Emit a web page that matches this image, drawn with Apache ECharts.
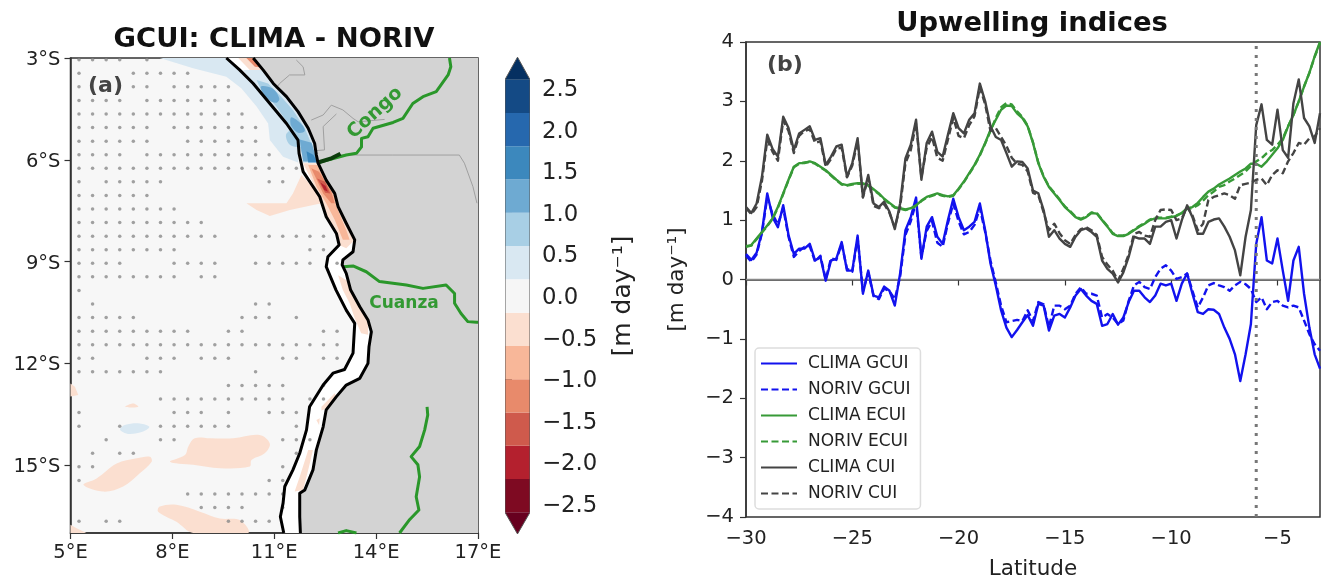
<!DOCTYPE html>
<html><head><meta charset="utf-8">
<style>html,body{margin:0;padding:0;background:#fff}#c{width:1322px;height:579px;filter:blur(0.5px)}</style>
<script src="https://cdn.jsdelivr.net/npm/echarts@6/dist/echarts.min.js"></script>
</head><body><div id="c"></div>
<script>
/* ---------- panel (b) data ---------- */
const latitudes = [-30,-29.75,-29.5,-29.25,-29,-28.75,-28.5,-28.25,-28,-27.75,-27.5,-27.25,-27,-26.75,-26.5,-26.25,-26,-25.75,-25.5,-25.25,-25,-24.75,-24.5,-24.25,-24,-23.75,-23.5,-23.25,-23,-22.75,-22.5,-22.25,-22,-21.75,-21.5,-21.25,-21,-20.75,-20.5,-20.25,-20,-19.75,-19.5,-19.25,-19,-18.75,-18.5,-18.25,-18,-17.75,-17.5,-17.25,-17,-16.75,-16.5,-16.25,-16,-15.75,-15.5,-15.25,-15,-14.75,-14.5,-14.25,-14,-13.75,-13.5,-13.25,-13,-12.75,-12.5,-12.25,-12,-11.75,-11.5,-11.25,-11,-10.75,-10.5,-10.25,-10,-9.75,-9.5,-9.25,-9,-8.75,-8.5,-8.25,-8,-7.75,-7.5,-7.25,-7,-6.75,-6.5,-6.25,-6,-5.75,-5.5,-5.25,-5,-4.75,-4.5,-4.25,-4,-3.75,-3.5,-3.25,-3];
const climaGcui = [0.43,0.33,0.45,0.8,1.45,1.05,0.88,1.25,0.75,0.43,0.52,0.52,0.6,0.32,0.38,-0.02,0.32,0.35,0.63,0.15,0.15,0.74,-0.24,0.15,-0.27,-0.3,-0.12,-0.19,-0.44,0.1,0.83,1.05,1.38,0.35,0.89,1.05,0.72,0.6,1.0,1.36,1.05,0.83,0.89,0.97,1.28,0.83,0.27,-0.1,-0.52,-0.81,-0.97,-0.85,
-0.72,-0.6,-0.78,-0.41,-0.44,-0.86,-0.61,-0.58,-0.64,-0.47,-0.27,-0.16,-0.27,-0.36,-0.41,-0.78,-0.75,-0.58,-0.76,-0.64,-0.38,-0.19,-0.19,-0.3,-0.38,-0.27,-0.07,-0.1,-0.07,-0.36,-0.07,0.1,-0.24,-0.55,-0.58,-0.5,-0.51,-0.58,-0.81,-1.0,-1.26,-1.71,-1.26,-0.75,0.6,1.05,0.32,0.27,0.69,0.15,-0.36,0.32,0.55,-0.24,-0.81,-1.26,-1.5];
const norivGcui = [0.4,0.3,0.42,0.78,1.38,1.1,0.93,1.2,0.72,0.38,0.48,0.55,0.56,0.3,0.4,0.0,0.36,0.33,0.6,0.18,0.13,0.7,-0.2,0.12,-0.28,-0.33,-0.15,-0.2,-0.33,0.05,0.75,0.98,1.3,0.38,0.82,0.98,0.62,0.55,0.95,1.28,0.98,0.76,0.8,0.92,1.2,0.8,0.32,-0.05,-0.44,-0.72,-0.7,-0.68,
-0.7,-0.52,-0.7,-0.38,-0.42,-0.8,-0.44,-0.44,-0.5,-0.44,-0.24,-0.13,-0.24,-0.24,-0.27,-0.64,-0.58,-0.64,-0.75,-0.69,-0.36,-0.1,-0.04,-0.13,-0.16,0.04,0.18,0.24,0.15,0.01,0.04,0.1,-0.19,-0.47,-0.3,-0.1,-0.06,-0.1,-0.13,-0.19,-0.1,-0.04,-0.08,-0.16,-0.38,-0.3,-0.5,-0.38,-0.36,-0.44,-0.47,-0.44,-0.47,-0.69,-0.92,-1.09,-1.2];
const climaEcui = [0.56,0.58,0.69,0.8,0.91,1.03,1.22,1.45,1.68,1.9,1.96,1.96,1.99,1.96,1.9,1.84,1.76,1.68,1.61,1.59,1.61,1.62,1.62,1.59,1.52,1.45,1.36,1.29,1.22,1.2,1.18,1.2,1.25,1.33,1.39,1.42,1.45,1.42,1.4,1.42,1.53,1.65,1.79,1.93,2.1,2.3,2.52,2.69,2.86,2.93,2.92,2.8,
2.72,2.58,2.3,1.96,1.73,1.56,1.45,1.34,1.22,1.14,1.05,1.01,1.05,1.12,1.11,1.0,0.89,0.77,0.73,0.73,0.77,0.83,0.89,0.94,1.0,1.03,1.03,1.03,1.05,1.07,1.12,1.2,1.22,1.29,1.39,1.48,1.53,1.6,1.65,1.7,1.76,1.82,1.87,1.95,1.95,1.9,1.99,2.1,2.21,2.35,2.58,2.77,3.0,3.25,3.48,3.76,4.0];
const norivEcui = [0.55,0.57,0.68,0.79,0.9,1.02,1.21,1.44,1.67,1.89,1.95,1.97,1.98,1.95,1.89,1.83,1.75,1.67,1.6,1.58,1.6,1.61,1.61,1.58,1.51,1.44,1.35,1.28,1.21,1.19,1.17,1.19,1.24,1.32,1.38,1.41,1.44,1.41,1.39,1.41,1.52,1.64,1.78,1.92,2.09,2.29,2.5,2.72,2.9,2.97,2.95,2.83,
2.74,2.59,2.31,1.97,1.74,1.57,1.46,1.35,1.23,1.15,1.06,1.02,1.06,1.13,1.12,1.01,0.9,0.78,0.74,0.74,0.78,0.84,0.9,0.95,1.01,1.04,1.04,1.04,1.06,1.08,1.12,1.19,1.2,1.25,1.33,1.42,1.48,1.56,1.59,1.65,1.7,1.76,1.82,1.91,1.99,2.04,2.13,2.18,2.27,2.38,2.58,2.77,3.0,3.25,3.48,3.75,3.98];
const climaCui = [1.22,1.12,1.28,1.73,2.44,2.2,2.07,2.74,2.55,2.18,2.46,2.52,2.58,2.35,2.38,1.93,2.07,2.24,2.27,1.73,1.96,2.38,1.39,1.76,1.28,1.22,1.31,1.14,0.85,1.28,2.04,2.27,2.69,1.68,2.3,2.49,2.15,2.07,2.44,2.8,2.55,2.46,2.69,2.8,3.3,3.0,2.58,2.4,2.35,2.13,1.9,1.99,
1.98,1.87,1.5,1.45,1.17,0.72,0.83,0.69,0.6,0.55,0.72,0.83,0.86,0.8,0.72,0.32,0.18,0.1,-0.05,0.12,0.38,0.72,0.69,0.69,0.6,0.89,0.89,0.97,1.0,0.69,1.0,1.25,1.05,0.77,0.77,0.97,1.01,1.03,0.89,0.72,0.49,0.07,0.72,1.17,2.6,2.95,2.35,2.27,2.86,2.18,2.05,2.97,3.37,2.72,2.58,2.3,2.8];
const norivCui = [1.2,1.1,1.22,1.66,2.35,2.15,2.0,2.68,2.5,2.13,2.42,2.5,2.53,2.3,2.33,1.9,2.03,2.2,2.22,1.72,1.92,2.33,1.38,1.72,1.24,1.2,1.27,1.12,0.88,1.22,1.96,2.18,2.62,1.72,2.22,2.4,2.05,2.0,2.36,2.72,2.42,2.38,2.6,2.75,3.24,2.95,2.5,2.55,2.4,2.25,2.05,1.95,
1.93,1.82,1.46,1.42,1.13,0.83,0.94,0.78,0.66,0.6,0.75,0.85,0.88,0.83,0.75,0.38,0.25,0.15,-0.02,0.18,0.42,0.77,0.8,0.74,0.72,1.0,1.17,1.18,1.17,1.0,1.03,1.22,1.08,0.83,0.94,1.34,1.39,1.42,1.45,1.42,1.36,1.59,1.61,1.63,1.68,1.7,1.59,1.76,1.84,1.79,1.99,2.13,2.3,2.27,2.38,2.41,2.55];
const zeroLine = [[-30,0],[-3,0]];
const refLatitude = [[-6,-4],[-6,4]];
const latitudeTicks = [-30,-25,-20,-15,-10,-5];

/* ---------- panel (a) data, [lon, lat] ---------- */
const lonTicks = [5,8,11,14,17];
const latTicks = [-15,-12,-9,-6,-3];
const coastLand = [[10.38,-3],[10.67,-3.35],[10.97,-3.75],[11.36,-4.14],[11.7,-4.58],[12,-5.07],[12.19,-5.52],[12.24,-5.86],[12.29,-6.1],[12.53,-6.6],[12.78,-6.99],[12.88,-7.38],[13.12,-7.87],[13.37,-8.36],[13.32,-8.71],[13.02,-8.95],[13,-9.1],[13.12,-9.35],[13.25,-9.84],[13.52,-10.33],[13.76,-10.72],[13.86,-11.07],[13.79,-11.51],[13.76,-12],[13.52,-12.44],[13.12,-12.64],[12.83,-12.98],[12.53,-13.37],[12.44,-13.87],[12.24,-14.55],[12.14,-15.14],[11.9,-15.73],[11.75,-15.83],[11.75,-16.52],[11.77,-17]];
const coastOffshore = [[9.59,-3],[9.98,-3.35],[10.38,-3.75],[10.87,-4.34],[11.36,-4.93],[11.7,-5.42],[11.73,-5.81],[11.85,-6.35],[12.34,-7.09],[12.53,-7.68],[12.83,-8.17],[12.91,-8.51],[12.58,-8.86],[12.53,-9.15],[12.82,-9.84],[13.12,-10.43],[13.37,-10.82],[13.32,-11.7],[13.07,-12.18],[12.73,-12.29],[12.44,-12.64],[12.04,-13.28],[11.95,-13.96],[11.75,-14.65],[11.55,-15.14],[11.31,-15.63],[11.26,-16.12],[11.18,-16.52],[11.28,-17]];
const landCorners = [[11.77,-17],[17,-17],[17,-3],[10.38,-3]];
const patchC = [[7.63,-3],[8.61,-3.3],[9.59,-3.55],[10.03,-3.89],[10.48,-4.43],[10.82,-4.93],[10.87,-5.42],[11.26,-5.91],[11.7,-6.08],[11.73,-5.81],[11.7,-5.42],[11.36,-4.93],[10.87,-4.34],[10.38,-3.75],[9.98,-3.35],[9.59,-3]];
const bandBlue1 = [[10.08,-3.35],[10.67,-3.35],[10.97,-3.75],[11.36,-4.14],[11.7,-4.58],[12,-5.07],[12.19,-5.52],[12.29,-6.1],[11.85,-6.1],[11.7,-5.42],[11.36,-4.93],[10.87,-4.34],[10.38,-3.75]];
const bandBlue2 = [[10.48,-3.65],[10.82,-3.75],[11.16,-4.09],[11.55,-4.53],[11.9,-5.07],[12.09,-5.52],[12.26,-6.06],[11.9,-6.06],[11.75,-5.61],[11.5,-5.07],[11.06,-4.43],[10.57,-3.85]];
const blobOutside = [[11.35,-5.25],[11.6,-5.1],[11.72,-5.6],[11.45,-5.55]];
const bandBlue3 = [[10.6,-3.85],[10.95,-3.9],[11.15,-4.2],[11.05,-4.32],[10.8,-4.2]];
const bandBlue4 = [[11.5,-4.75],[11.8,-4.95],[11.9,-5.15],[11.7,-5.2],[11.5,-5]];
const bandBlue5 = [[11.75,-5.4],[12.1,-5.5],[12.27,-6.05],[11.85,-6.05]];
const bandBlue6 = [[11.95,-5.75],[12.15,-5.85],[12.27,-6.08],[12,-6.08]];
const bandRed1 = [[11.85,-6.1],[12.29,-6.1],[12.53,-6.6],[12.78,-6.99],[12.88,-7.38],[13.12,-7.87],[13.37,-8.36],[13.12,-8.61],[12.91,-8.51],[12.83,-8.17],[12.53,-7.68],[12.34,-7.09]];
const bandRed2 = [[12,-6.15],[12.26,-6.15],[12.53,-6.65],[12.78,-7.09],[12.83,-7.38],[13.12,-8.07],[13.22,-8.36],[13.02,-8.36],[12.78,-7.77],[12.53,-7.28],[12.24,-6.79]];
const bandRed3 = [[12.09,-6.25],[12.32,-6.35],[12.68,-6.94],[12.78,-7.28],[12.68,-7.28],[12.44,-6.99]];
const bandRed4 = [[12.26,-6.55],[12.5,-6.65],[12.65,-6.99],[12.5,-6.97]];
const bandRed5 = [[12.36,-6.67],[12.51,-6.77],[12.58,-6.94],[12.47,-6.89]];
const plumeLeft = [[11.8,-6.45],[11.55,-6.99],[11.36,-7.28],[10.18,-7.28],[10.48,-7.48],[10.87,-7.66],[11.46,-7.48],[12.39,-7.28],[12.34,-7.09],[11.95,-6.6]];
const topSalmon = [[9.94,-3],[10.38,-3],[10.67,-3.35],[10.28,-3.35]];
const topRed = [[10.18,-3],[10.4,-3],[10.57,-3.27],[10.43,-3.26]];
const bandS1 = [[12.88,-9.4],[13.12,-9.54],[13.32,-9.84],[13.52,-10.38],[13.76,-10.77],[13.76,-11.16],[13.56,-11.11],[13.37,-10.67],[13.22,-10.23],[13.02,-9.84]];
const bandS2 = [[12.39,-13.28],[12.78,-12.88],[12.83,-12.98],[12.53,-13.33],[12.39,-13.39]];
const bandS3 = [[12.24,-13.67],[12.34,-13.62],[12.32,-13.82]];
const bandS4 = [[12,-14.55],[12.14,-14.55],[12,-15.14],[11.85,-15.73],[11.6,-15.78],[11.75,-15.34]];
const seaA = [[9.1,-14.21],[9.79,-14.21],[10.57,-14.11],[10.87,-14.36],[10.72,-14.65],[10.33,-14.85],[10.28,-15.04],[9.4,-15.09],[8.61,-14.99],[7.93,-14.9],[8.37,-14.7],[8.47,-14.45],[8.66,-14.21]];
const seaB = [[7.34,-14.75],[7.39,-14.9],[7.04,-15.24],[6.55,-15.63],[5.97,-15.78],[5.38,-15.58],[5.77,-15.39],[6.36,-14.95],[6.95,-14.8]];
const seaC = [[7.63,-16.22],[8.12,-16.17],[8.81,-16.37],[9.4,-16.57],[9.99,-16.62],[10.23,-17],[8.61,-17],[8.12,-16.67],[7.58,-16.37]];
const seaD = [[5,-12.59],[5.13,-12.69],[5.23,-12.93],[5,-12.98]];
const seaE = [[5,-16.76],[5.18,-16.86],[5.47,-17],[5,-17]];
const seaF = [[6.6,-13.28],[6.85,-13.18],[7,-13.28],[6.8,-13.3]];
const seaG = [[6.46,-13.96],[6.6,-13.82],[7.04,-13.77],[7.32,-13.87],[7.14,-14.01],[6.7,-14.08]];
const riverCongo = [[12.29,-6.08],[12.63,-5.99],[13.12,-5.86],[13.42,-5.81],[13.57,-5.62],[13.57,-5.37],[13.76,-5.32],[13.91,-5.07],[14.5,-4.9],[14.79,-4.78],[15.08,-4.34],[15.38,-4.14],[15.77,-3.99],[16.12,-3.5],[16.2,-3.26],[16.16,-3]];
const riverMouth = [[12.29,-6.08],[12.7,-5.95],[12.95,-5.82]];
const riverCuanza = [[13.02,-9.15],[13.32,-9.13],[13.71,-9.3],[14.1,-9.59],[14.89,-9.69],[15.38,-9.79],[16.06,-9.69],[16.31,-9.94],[16.31,-10.23],[16.5,-10.53],[16.7,-10.77],[16.95,-10.79],[17,-10.79]];
const riverSouth = [[15.5,-13.28],[15.52,-13.52],[15.43,-13.96],[15.28,-14.45],[15.03,-14.75],[15.23,-14.99],[15.28,-15.34],[15.18,-15.93],[15.26,-16.32],[14.99,-16.6],[14.69,-17]];
const riverBottom = [[12.88,-17],[13.12,-16.93],[13.42,-17]];
const borderA = [[11.65,-3.06],[11.85,-3.26],[11.9,-3.5],[11.45,-3.5],[11.16,-3.75],[11.06,-3.89]];
const borderB = [[12.09,-4.83],[12.44,-4.68],[12.68,-4.39],[13.02,-4.53],[13.32,-4.78],[13.47,-4.88],[14.25,-4.81]];
const borderC = [[12.83,-4.65],[12.44,-5.02],[12.48,-5.71],[12.22,-5.73]];
const borderD = [[12.93,-5.86],[14.49,-5.86],[16.45,-5.86],[16.6,-6.1],[16.85,-6.79],[16.97,-7.28]];
const stippleLons = [5.25,5.65,6.05,6.45,6.85,7.25,7.65,8.05,8.45,8.85,9.25,9.65,10.05,10.45,10.85,11.25,11.65,12.05,12.45,12.85];
const stippleLats = [-3.05,-3.45,-3.85,-4.25,-4.65,-5.05,-5.45,-5.85,-6.25,-6.65,-7.05,-7.45,-7.85,-8.25,-8.65,-9.05,-9.45,-9.85,-10.25,-10.65,-11.05,-11.45,-11.85,-12.25,-12.65,-13.05,-13.45,-13.85,-14.25,-14.65,-15.05,-15.45,-15.85,-16.25,-16.65];
const stippleRows = [[0,1,2,3,5],[0,4,5,6,7,8],[0,4,5,7,8,9,10,11],[0,1,2,3,5,6,7,8,9,10,11],[0,1,2,3,4,5,6,7,8,9,10,11,12],[0,1,2,3,4,5,7,8,9,10,11,12,13],[0,1,2,3,4,5,8,9,10,11,12,13],[0,1,2,3,5,6,7,8,9,10,11,12,13,14],[0,1,2,3,4,5,6,7,8,9,10,11,12,13,14,15,16],[0,2,3,4,5,6,14,15],[0,1,2,3,4,5],[0,1,2,3,4,5,6,7],[0,1,2,3,4,5,6,7,8,9],[0,1,2,3,4,5,6,7,8,9,10,13,14,15,16,17,18],[0,1,2,3,4,5,6,7,17,18],[0,1,2,3,7,8,9,10,13,14,15,16,17,19],[0,1,2,3,4,5,6,7,9,10],[0],[1,13,14],[0,1,2,3,4,12,13,14,16],[0,1,2,3,4,5,6,7,8,11,12,18,19],[0,1,2,3,4,5,6,7,8,9,10,11,12,13,14,15,16,17,18,19],[0,1,5,6,7,9,10,11,15,16,18,19],[0,1,2,3,4,5,6,13],[11,12,13,14,15,18],[6,7,8,9,10,11,12,13,14,15,17,18],[0,7,8,9,11,14,15,16],[0,3,6,7,8,9,10,11,16],[2,6,7,15,16,17],[1,3,4,16],[0,1,15],[0,14,15],[8,9,10,11,12,13,14,15],[9,10,11,12,15],[0,2,3,11,12,13,14]];

/* ---------- colour bar data ---------- */
const barLevels = [-2.6,-2.2,-1.8,-1.4,-1.0,-0.6,-0.2,0.2,0.6,1.0,1.4,1.8,2.2,2.6];
const barColors = ['#7e0a22','#b4202e','#cf5a4c','#e88a6b','#f8b799','#fbdfd0','#f6f6f6','#d9e8f2','#a8cfe5','#6eaad2','#3c88bd','#2668ae','#144a85'];
const barTicks = [-2.5,-2,-1.5,-1,-0.5,0,0.5,1,1.5,2,2.5];
const barArrowTop = [[0,2.6],[1,2.6],[0.5,2.87]];
const barArrowBottom = [[0,-2.6],[1,-2.6],[0.5,-2.86]];

/* ---------- build ---------- */
const FONT = 'DejaVu Sans';
const C = barColors;
const minus = s => String(s).replace('-', '\u2212');
const zip = ys => latitudes.map((x, i) => [x, ys[i]]);
function polygonSeries(list, xi, yi) {
  return {
    type: 'custom', coordinateSystem: 'cartesian2d', xAxisIndex: xi, yAxisIndex: yi, clip: true,
    silent: true, animation: false,
    data: list.map((_, i) => [i]), encode: {x: -1, y: -1},
    renderItem: (params, api) => {
      const p = list[params.dataIndex];
      return {type: 'polygon', shape: {points: p.pts.map(q => api.coord(q)), smooth: p.smooth || 0},
        style: {fill: p.fill, stroke: p.stroke || null, lineWidth: p.lw || 0}};
    }
  };
}
const mapLine = (data, color, width) => ({type: 'line', xAxisIndex: 0, yAxisIndex: 0, data, showSymbol: false, symbol: 'none',
  silent: true, animation: false, lineStyle: {color, width, join: 'round'}});
const stipple = [];
stippleRows.forEach((r, i) => r.forEach(j => stipple.push([stippleLons[j], stippleLats[i]])));
const bandWhite = coastOffshore.concat(coastLand.slice().reverse());
const land = coastLand.concat(landCorners);
const S = 0.35;
const seaPolys = [
  {pts: bandWhite, fill: '#ffffff'},
  {pts: patchC, fill: C[7]}, {pts: seaA, fill: C[5], smooth: S}, {pts: seaB, fill: C[5], smooth: S}, {pts: seaC, fill: C[5], smooth: S},
  {pts: seaD, fill: C[5]}, {pts: seaE, fill: C[5]}, {pts: seaF, fill: C[5], smooth: S}, {pts: seaG, fill: C[7], smooth: S},
  {pts: plumeLeft, fill: C[5]}, {pts: topSalmon, fill: C[5]}, {pts: topRed, fill: C[3]},
  {pts: bandS1, fill: C[5]}, {pts: bandS2, fill: C[5]}, {pts: bandS3, fill: C[5]}, {pts: bandS4, fill: C[5]},
  {pts: bandBlue1, fill: C[7]}, {pts: bandBlue2, fill: C[8]}, {pts: blobOutside, fill: C[8], smooth: S},
  {pts: bandBlue3, fill: C[9], smooth: S}, {pts: bandBlue4, fill: C[9], smooth: S}, {pts: bandBlue5, fill: C[9]}, {pts: bandBlue6, fill: C[10]},
  {pts: bandRed1, fill: C[5]}, {pts: bandRed2, fill: C[4]}, {pts: bandRed3, fill: C[3]}, {pts: bandRed4, fill: C[2]}, {pts: bandRed5, fill: C[1]}
];
const barPolys = barColors.map((fill, i) => ({fill, pts: [[0, barLevels[i]], [1, barLevels[i]], [1, barLevels[i + 1]], [0, barLevels[i + 1]]]}));
barPolys.push({fill: '#053061', pts: barArrowTop}, {fill: '#67001f', pts: barArrowBottom});
barPolys.push({fill: 'none', stroke: '#555', lw: 1, pts: [barArrowBottom[2], [1, -2.6], [1, 2.6], barArrowTop[2], [0, 2.6], [0, -2.6]]});

const BLUE = '#1212ee', GREEN = '#379a37', GREY = '#444444';
const DASH = [7, 3.5];
const curve = (name, ys, color, dashed) => ({name, type: 'line', xAxisIndex: 2, yAxisIndex: 2, data: zip(ys), showSymbol: false, symbol: 'none',
  animation: false, silent: true, clip: true, lineStyle: {color, width: 2.4, type: dashed ? DASH : 'solid', join: 'round'}, itemStyle: {color}});

const axisFont = {fontFamily: FONT, fontSize: 19.5, color: '#222'};
const spine = {show: true, lineStyle: {color: '#333', width: 1.5}};
const tick = {show: true, length: 6, lineStyle: {color: '#333', width: 1.2}};

const option = {
  animation: false,
  backgroundColor: '#fff',
  textStyle: {fontFamily: FONT},
  title: [
    {text: 'GCUI: CLIMA - NORIV', left: 269, top: 21, textAlign: 'center', textStyle: {fontFamily: FONT, fontSize: 27.4, fontWeight: 'bold', color: '#111'}},
    {text: 'Upwelling indices', left: 1027, top: 5, textAlign: 'center', textStyle: {fontFamily: FONT, fontSize: 27.4, fontWeight: 'bold', color: '#111'}}
  ],
  grid: [
    {left: 70.5, top: 58, width: 407.5, height: 475, show: true, backgroundColor: '#f7f7f7', borderColor: '#333', borderWidth: 1.5, outerBoundsMode: 'none'},
    {left: 505, top: 46.4, width: 25, height: 499.2, outerBoundsMode: 'none'},
    {left: 746, top: 42, width: 574, height: 475, show: true, borderColor: '#333', borderWidth: 1.5, outerBoundsMode: 'none'}
  ],
  xAxis: [
    {gridIndex: 0, type: 'value', min: 5, max: 17, splitLine: {show: false}, axisLine: spine,
      axisTick: Object.assign({customValues: lonTicks}, tick),
      axisLabel: Object.assign({customValues: lonTicks, margin: 10, formatter: v => v + '°E'}, axisFont)},
    {gridIndex: 1, type: 'value', min: 0, max: 1, show: false},
    {gridIndex: 2, type: 'value', min: -30, max: -3, splitLine: {show: false}, axisLine: spine,
      axisTick: Object.assign({customValues: latitudeTicks}, tick),
      axisLabel: Object.assign({customValues: latitudeTicks, margin: 12, formatter: minus}, axisFont),
      name: 'Latitude', nameLocation: 'middle', nameGap: 41, nameTextStyle: Object.assign({}, axisFont, {fontSize: 21.5})}
  ],
  yAxis: [
    {gridIndex: 0, type: 'value', min: -17, max: -3, splitLine: {show: false}, axisLine: spine,
      axisTick: Object.assign({customValues: latTicks}, tick),
      axisLabel: Object.assign({customValues: latTicks, margin: 10, verticalAlign: 'top', lineHeight: 4, formatter: v => (-v) + '°S'}, axisFont)},
    {gridIndex: 1, type: 'value', min: -3, max: 3, position: 'right', splitLine: {show: false}, axisLine: {show: false},
      axisTick: Object.assign({customValues: barTicks}, tick, {length: 7}),
      axisLabel: Object.assign({customValues: barTicks, margin: 12, verticalAlign: 'top', lineHeight: 4, formatter: v => minus(v.toFixed(1))}, axisFont, {fontSize: 22.8}),
      name: '[m day\u207B\u00B9]', nameLocation: 'middle', nameGap: 81, nameRotate: 90, nameTextStyle: {fontFamily: FONT, fontSize: 25, color: '#222'}},
    {gridIndex: 2, type: 'value', min: -4, max: 4, interval: 1, splitLine: {show: false}, axisLine: spine,
      axisTick: tick, axisLabel: Object.assign({margin: 12, formatter: minus}, axisFont),
      name: '[m day\u207B\u00B9]', nameLocation: 'middle', nameGap: 58, nameRotate: 90, nameTextStyle: Object.assign({}, axisFont, {fontSize: 21.5})}
  ],
  legend: {
    data: ['CLIMA GCUI', 'NORIV GCUI', 'CLIMA ECUI', 'NORIV ECUI', 'CLIMA CUI', 'NORIV CUI'],
    orient: 'vertical', left: 755, top: 348, itemWidth: 36, itemHeight: 14, itemGap: 9, itemStyle: {opacity: 0},
    padding: [7, 10, 7, 5], backgroundColor: 'rgba(255,255,255,0.85)', borderColor: '#ddd', borderWidth: 1.5, borderRadius: 4,
    selectedMode: false, align: 'left',
    textStyle: {fontFamily: FONT, fontSize: 17, color: '#222', padding: [0, 0, 0, 6]}
  },
  graphic: [
    {type: 'text', left: 88, top: 75, style: {text: '(a)', fontFamily: FONT, fontSize: 22, fontWeight: 'bold', fill: '#444'}},
    {type: 'text', left: 767, top: 54, style: {text: '(b)', fontFamily: FONT, fontSize: 22, fontWeight: 'bold', fill: '#444'}},
    {type: 'text', x: 375, y: 113, rotation: 0.74, style: {text: 'Congo', fontFamily: FONT, fontSize: 19, fontWeight: 'bold', fill: '#339933', align: 'center', verticalAlign: 'middle'}, z: 50},
    {type: 'text', x: 404, y: 304, style: {text: 'Cuanza', fontFamily: FONT, fontSize: 17, fontWeight: 'bold', fill: '#339933', align: 'center', verticalAlign: 'middle'}, z: 50}
  ],
  series: [
    polygonSeries(seaPolys, 0, 0),
    {type: 'scatter', xAxisIndex: 0, yAxisIndex: 0, data: stipple, symbol: 'circle', symbolSize: 3.5, silent: true, animation: false, itemStyle: {color: '#8a8a8a'}},
    polygonSeries([{pts: land, fill: '#d3d3d3'}], 0, 0),
    mapLine(borderA, '#a0a0a0', 1), mapLine(borderB, '#a0a0a0', 1), mapLine(borderC, '#a0a0a0', 1), mapLine(borderD, '#a0a0a0', 1),
    mapLine(riverCongo, '#2a972a', 3), mapLine(riverCuanza, '#2a972a', 3), mapLine(riverSouth, '#2a972a', 3), mapLine(riverBottom, '#2a972a', 3),
    mapLine(riverMouth, '#0c3d0c', 4),
    mapLine(coastOffshore, '#000', 3), mapLine(coastLand, '#000', 3),
    polygonSeries(barPolys, 1, 1),
    {type: 'line', xAxisIndex: 2, yAxisIndex: 2, data: zeroLine, showSymbol: false, symbol: 'none', silent: true, animation: false, lineStyle: {color: '#888', width: 1.5}},
    curve('CLIMA GCUI', climaGcui, BLUE, false),
    curve('NORIV GCUI', norivGcui, BLUE, true),
    curve('CLIMA ECUI', climaEcui, GREEN, false),
    curve('NORIV ECUI', norivEcui, GREEN, true),
    curve('CLIMA CUI', climaCui, GREY, false),
    curve('NORIV CUI', norivCui, GREY, true),
    {type: 'line', xAxisIndex: 2, yAxisIndex: 2, data: refLatitude, showSymbol: false, symbol: 'none', silent: true, animation: false, lineStyle: {color: '#777', width: 3, type: [3, 6]}}
  ]
};
const chart = echarts.init(document.getElementById('c'), null, {renderer: 'canvas'});
chart.setOption(option);
</script></body></html>
